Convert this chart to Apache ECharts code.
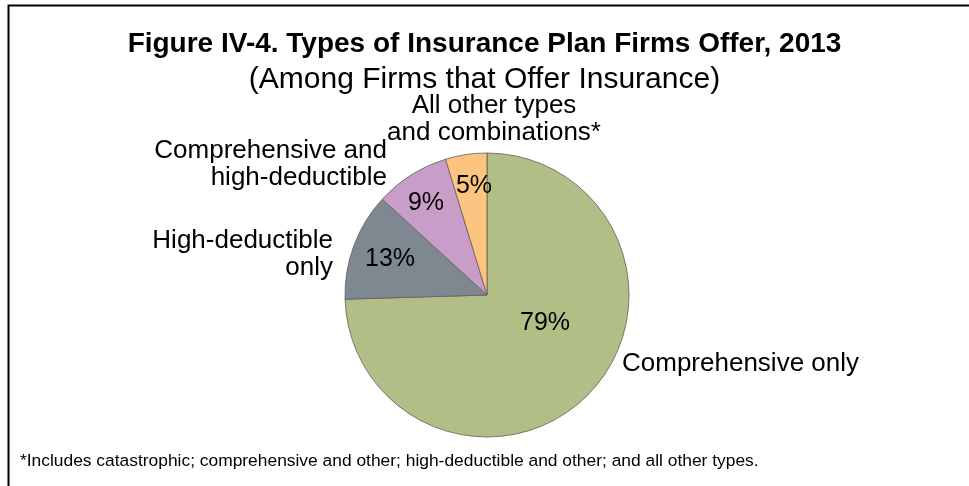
<!DOCTYPE html>
<html>
<head>
<meta charset="utf-8">
<script src="https://cdn.jsdelivr.net/npm/echarts@6/dist/echarts.min.js"></script>
<style>
  html, body { margin: 0; padding: 0; background: #ffffff; }
  #chart { width: 969px; height: 486px; }
</style>
</head>
<body>
<div id="chart"></div>
<script>
// Plan types offered, share of firms offering insurance (percent)
const categories = [
  'Comprehensive only',
  'High-deductible\nonly',
  'Comprehensive and\nhigh-deductible',
  'All other types\nand combinations*'
];
const shares = [79, 13, 9, 5];
const sliceColors = ['#b1bf86', '#7f8891', '#c89ec9', '#fcc47e'];

const titleText = 'Figure IV-4. Types of Insurance Plan Firms Offer, 2013';
const subtitleText = '(Among Firms that Offer Insurance)';
const noteText = '*Includes catastrophic; comprehensive and other; high-deductible and other; and all other types.';

const FONT = '"Liberation Sans", Arial, sans-serif';
const CENTER = [487, 295];
const RADIUS = 142;

// where each slice's category name sits
const nameAnchors = [
  { x: 622, y: 364, align: 'left' },
  { x: 333, y: 254, align: 'right' },
  { x: 387, y: 164, align: 'right' },
  { x: 494, y: 119, align: 'center' }
];
// where each slice's percentage sits
const valueAnchors = [
  { x: 545, y: 323 },
  { x: 390, y: 259 },
  { x: 426, y: 203 },
  { x: 474, y: 186 }
];

const pieData = categories.map((name, i) => ({
  name: name,
  value: shares[i],
  itemStyle: { color: sliceColors[i] }
}));

const chart = echarts.init(document.getElementById('chart'), null, { renderer: 'canvas' });

chart.setOption({
  animation: false,
  backgroundColor: '#ffffff',
  title: [
    {
      text: titleText,
      left: 'center',
      top: 25,
      textStyle: { fontFamily: FONT, fontSize: 28, fontWeight: 'bold', color: '#000000' }
    },
    {
      text: subtitleText,
      left: 'center',
      top: 60,
      textStyle: { fontFamily: FONT, fontSize: 30, fontWeight: 'normal', color: '#000000' }
    },
    {
      text: noteText,
      left: 15,
      top: 448,
      textStyle: { fontFamily: FONT, fontSize: 17.4, fontWeight: 'normal', color: '#000000' }
    }
  ],
  graphic: [
    {
      // frame along the top and left edges
      type: 'polyline',
      shape: { points: [[8.5, 486], [8.5, 5.5], [969, 5.5]] },
      style: { stroke: '#000000', lineWidth: 2, fill: null },
      silent: true
    }
  ],
  series: [
    {
      // slices with their percentages
      type: 'pie',
      center: CENTER,
      radius: RADIUS,
      startAngle: 90,
      clockwise: true,
      silent: true,
      data: pieData,
      itemStyle: { borderColor: '#5e5e5e', borderWidth: 0.8 },
      label: {
        show: true,
        position: 'inside',
        formatter: p => p.value + '%',
        fontFamily: FONT,
        fontSize: 25,
        color: '#000000'
      },
      labelLine: { show: false },
      labelLayout: p => ({
        x: valueAnchors[p.dataIndex].x,
        y: valueAnchors[p.dataIndex].y,
        align: 'center',
        verticalAlign: 'middle'
      })
    },
    {
      // same slices again, invisible, carrying the category names
      type: 'pie',
      center: CENTER,
      radius: RADIUS,
      startAngle: 90,
      clockwise: true,
      silent: true,
      data: pieData.map(d => ({ name: d.name, value: d.value, itemStyle: { color: 'transparent', borderWidth: 0 } })),
      label: {
        show: true,
        position: 'outside',
        formatter: p => p.name,
        fontFamily: FONT,
        fontSize: 26,
        lineHeight: 27,
        color: '#000000'
      },
      labelLine: { show: false },
      labelLayout: p => ({
        x: nameAnchors[p.dataIndex].x,
        y: nameAnchors[p.dataIndex].y,
        align: nameAnchors[p.dataIndex].align,
        verticalAlign: 'middle'
      })
    }
  ]
});
</script>
</body>
</html>
